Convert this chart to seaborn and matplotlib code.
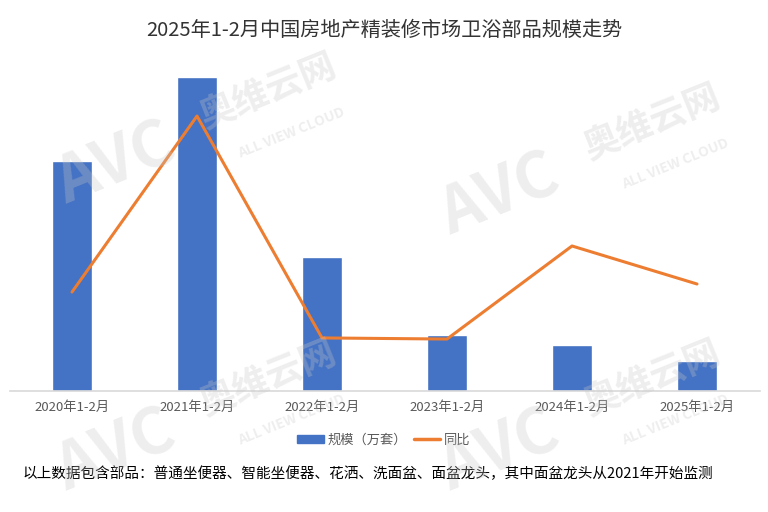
import pandas as pd
import seaborn as sns
import matplotlib.pyplot as plt
from matplotlib.patches import Patch
from matplotlib.lines import Line2D

# data (no axis values shown, so scale is estimated)
periods = ['2020年1-2月', '2021年1-2月', '2022年1-2月', '2023年1-2月', '2024年1-2月', '2025年1-2月']
scale_wan = [115, 157, 67, 28, 23, 15]          # 规模（万套）
yoy = [0.20, 1.45, -0.126, -0.134, 0.527, 0.257]  # 同比

df = pd.DataFrame({'period': periods, 'scale': scale_wan, 'yoy': yoy})

sns.set_theme(style="white")
plt.rcParams['font.family'] = ['Noto Sans CJK SC', 'DejaVu Sans']

fig = plt.figure(figsize=(7.68, 5.12), dpi=100)
ax = fig.add_axes([9.5 / 768, 121 / 512, 750 / 768, 321 / 512])

sns.barplot(data=df, x='period', y='scale', color='#4472C4', width=0.32,
            saturation=1, ax=ax, zorder=2)
ax.set_ylim(0, 160.5)
ax.set_xlim(-0.5, 5.5)
ax.set_xlabel('')
ax.set_ylabel('')
ax.set_yticks([])
ax.tick_params(axis='x', length=0, labelsize=9.5, labelcolor='#595959', pad=7)
for s in ['top', 'right', 'left']:
    ax.spines[s].set_visible(False)
ax.spines['bottom'].set_color('#D9D9D9')
ax.spines['bottom'].set_linewidth(1.2)

ax2 = ax.twinx()
sns.lineplot(x=range(len(periods)), y=df['yoy'], color='#ED7D31', linewidth=2.2, ax=ax2)
ax2.set_ylim(-0.503, 1.777)
ax2.set_yticks([])
ax2.set_ylabel('')
for s in ax2.spines.values():
    s.set_visible(False)

fig.text(0.5, 1 - 30 / 512, '2025年1-2月中国房地产精装修市场卫浴部品规模走势',
         ha='center', va='center', fontsize=14.5, color='#333333')

handles = [Patch(color='#4472C4'), Line2D([0], [0], color='#ED7D31', lw=2.5)]
fig.legend(handles, ['规模（万套）', '同比'], loc='center', bbox_to_anchor=(0.5, 1 - 440 / 512),
           ncol=2, frameon=False, fontsize=9.5, labelcolor='#595959',
           handlelength=2.0, handleheight=0.6, columnspacing=0.5, handletextpad=0.3)

fig.text(23 / 768, 1 - 474 / 512,
         '以上数据包含部品：普通坐便器、智能坐便器、花洒、洗面盆、面盆龙头，其中面盆龙头从2021年开始监测',
         ha='left', va='center', fontsize=10.5, color='#000000')

# faint watermarks
for (x, y) in [(0.15, 0.68), (0.65, 0.62), (0.15, 0.12), (0.65, 0.12)]:
    fig.text(x, y, 'AVC', fontsize=46, fontweight='bold', color='#C8C8C8', alpha=0.3,
             rotation=22, ha='center', va='center', zorder=10)
    fig.text(x + 0.2, y + 0.14, '奥维云网', fontsize=26, fontweight='bold', color='#C8C8C8',
             alpha=0.3, rotation=22, ha='center', va='center', zorder=10)
    fig.text(x + 0.23, y + 0.06, 'ALL VIEW CLOUD', fontsize=10, fontweight='bold',
             color='#C8C8C8', alpha=0.3, rotation=22, ha='center', va='center', zorder=10)

fig.savefig('out.png', dpi=100)
